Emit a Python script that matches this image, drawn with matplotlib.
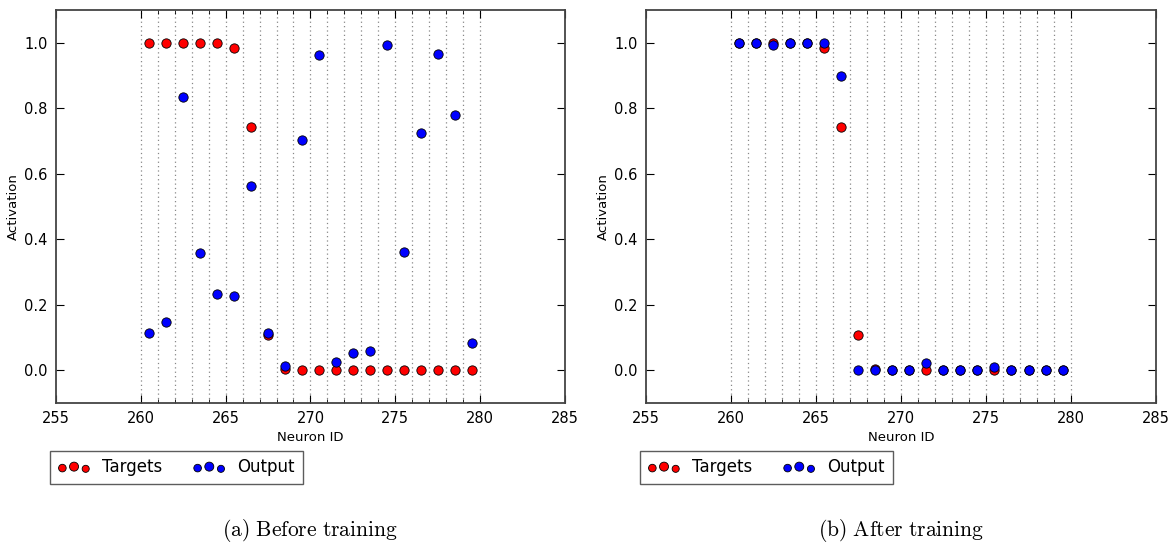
import numpy as np
import matplotlib
matplotlib.use("Agg")
import matplotlib.pyplot as plt
from matplotlib.collections import PathCollection
from matplotlib.legend_handler import HandlerPathCollection

# --- data ---
neuron_ids = np.arange(260, 280) + 0.5
boundaries = np.arange(260, 281)

targets = [1.0, 1.0, 1.0, 1.0, 1.0, 0.985, 0.742, 0.108, 0.004, 0.0,
           0.0, 0.0, 0.0, 0.0, 0.0, 0.0, 0.0, 0.0, 0.0, 0.0]
output_before = [0.115, 0.148, 0.835, 0.358, 0.233, 0.228, 0.562, 0.115, 0.012, 0.703,
                 0.962, 0.025, 0.053, 0.058, 0.993, 0.360, 0.725, 0.965, 0.780, 0.083]
output_after = [1.0, 1.0, 0.993, 1.0, 1.0, 1.0, 0.898, 0.0, 0.002, 0.0,
                0.002, 0.021, 0.002, 0.002, 0.0, 0.010, 0.0, 0.0, 0.002, 0.002]

captions = [r'$\mathrm{(a)\ Before\ training}$', r'$\mathrm{(b)\ After\ training}$']
yticks = [0.0, 0.2, 0.4, 0.6, 0.8, 1.0]
xticks = [255, 260, 265, 270, 275, 280, 285]

plt.rcParams['mathtext.fontset'] = 'cm'
plt.rcParams['font.family'] = 'DejaVu Sans'

fig = plt.figure(figsize=(11.76, 5.43), dpi=100, facecolor='white')
axes = [fig.add_axes([0.0476, 0.2578, 0.4328, 0.7238]),
        fig.add_axes([0.5493, 0.2578, 0.4337, 0.7238])]

for ax, out, cap in zip(axes, [output_before, output_after], captions):
    # dotted separators between neurons
    for b in boundaries:
        ax.axvline(b, color='#888888', linestyle=(0, (1, 2.5)), linewidth=0.9, zorder=1)

    ax.scatter(neuron_ids, targets, s=45, c='red', edgecolors='black',
               linewidths=0.6, label='Targets', zorder=3)
    ax.scatter(neuron_ids, out, s=45, c='blue', edgecolors='black',
               linewidths=0.6, label='Output', zorder=4)

    ax.set_xlim(255, 285)
    ax.set_ylim(-0.1, 1.1)
    ax.xaxis.remove_overlapping_locs = False
    ax.set_xticks(xticks)
    ax.set_xticks(boundaries, minor=True)
    ax.set_yticks(yticks)
    ax.set_yticklabels(['%.1f' % v for v in yticks])
    ax.tick_params(which='both', direction='in', top=True, right=True, labelsize=10.5, pad=6)
    ax.tick_params(which='major', length=6)
    ax.tick_params(which='minor', length=3)
    for sp in ax.spines.values():
        sp.set_color('#444444')
        sp.set_linewidth(1.3)
    ax.set_xlabel('Neuron ID', fontsize=9.5, labelpad=3)
    ax.set_ylabel('Activation', fontsize=9.5, labelpad=3)

    leg = ax.legend(loc='upper left', bbox_to_anchor=(-0.012, -0.122), ncol=2,
                    scatterpoints=3, fontsize=12, frameon=True, fancybox=False,
                    borderaxespad=0, columnspacing=1.8, handletextpad=0.7,
                    borderpad=0.45,
                    handler_map={PathCollection: HandlerPathCollection(sizes=[30, 42, 26])})
    leg.get_frame().set_edgecolor('#333333')
    leg.get_frame().set_linewidth(1.0)

    ax.text(0.5, -0.325, cap, transform=ax.transAxes, ha='center', va='center', fontsize=15.5)

fig.savefig('out.png', dpi=100, facecolor='white')
